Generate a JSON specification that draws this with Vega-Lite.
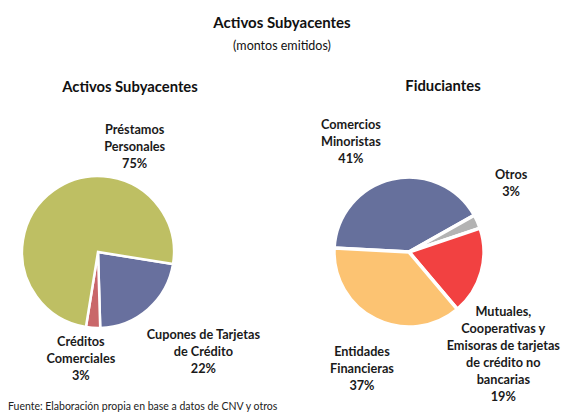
{
  "$schema": "https://vega.github.io/schema/vega-lite/v6.json",
  "padding": {"left": 0, "top": 16, "right": 0, "bottom": 0},
  "autosize": {"type": "pad"},
  "bounds": "flush",
  "background": "white",
  "config": {
    "view": {"stroke": null},
    "font": "Lato",
    "title": {"color": "#111111", "fontWeight": "bold"}
  },
  "title": {
    "text": "Activos Subyacentes",
    "subtitle": "(montos emitidos)",
    "fontSize": 15,
    "fontWeight": "bold",
    "subtitleFontSize": 12.5,
    "subtitleColor": "#111111",
    "subtitlePadding": 9,
    "anchor": "middle",
    "offset": 26
  },
  "vconcat": [
    {
      "title": {
        "text": "Fuente: Elaboración propia en base a datos de CNV y otros",
        "orient": "bottom",
        "anchor": "start",
        "fontSize": 10.5,
        "fontWeight": "normal",
        "color": "#222222",
        "dx": 8,
        "offset": -2
      },
      "spacing": 58,
      "bounds": "flush",
      "resolve": {"scale": {"color": "independent", "theta": "independent"}},
      "hconcat": [
        {
          "width": 196,
          "height": 296,
          "title": {"text": "Activos Subyacentes", "fontSize": 14.8, "dx": 32, "offset": 9},
          "data": {
            "values": [
              {"categoria": "Cupones de Tarjetas de Crédito", "monto": 22, "orden": 1, "etiqueta": "Cupones de Tarjetas\nde Crédito\n22%"},
              {"categoria": "Créditos Comerciales", "monto": 3, "orden": 2, "etiqueta": "Créditos\nComerciales\n3%"},
              {"categoria": "Préstamos Personales", "monto": 75, "orden": 3, "etiqueta": "Préstamos\nPersonales\n75%"}
            ]
          },
          "layer": [
            {
              "mark": {"type": "arc", "outerRadius": 76, "stroke": "white", "strokeWidth": 2.5},
              "encoding": {
                "theta": {"field": "monto", "type": "quantitative", "stack": true, "scale": {"range": [1.73, 8.0132]}},
                "order": {"field": "orden", "type": "quantitative"},
                "color": {
                  "field": "categoria", "type": "nominal", "legend": null,
                  "scale": {"domain": ["Cupones de Tarjetas de Crédito", "Créditos Comerciales", "Préstamos Personales"], "range": ["#68709E", "#C9676A", "#BEBF63"]}
                }
              }
            },
            {
              "mark": {"type": "text", "radius": 140, "dx": 13, "dy": -22, "font": "Lato", "fontWeight": "bold", "fontSize": 12.7, "lineHeight": 17, "lineBreak": "\n", "align": "center", "baseline": "middle", "color": "#1a1a1a"},
              "encoding": {
                "theta": {"field": "monto", "type": "quantitative", "stack": true},
                "order": {"field": "orden", "type": "quantitative"},
                "text": {"condition": {"test": "datum.orden == 1", "field": "etiqueta"}, "value": ""}
              }
            },
            {
              "mark": {"type": "text", "radius": 110, "dx": -10, "dy": -20, "font": "Lato", "fontWeight": "bold", "fontSize": 12.7, "lineHeight": 17, "lineBreak": "\n", "align": "center", "baseline": "middle", "color": "#1a1a1a"},
              "encoding": {
                "theta": {"field": "monto", "type": "quantitative", "stack": true},
                "order": {"field": "orden", "type": "quantitative"},
                "text": {"condition": {"test": "datum.orden == 2", "field": "etiqueta"}, "value": ""}
              }
            },
            {
              "mark": {"type": "text", "radius": 120, "dx": 107, "dy": -25, "font": "Lato", "fontWeight": "bold", "fontSize": 12.7, "lineHeight": 17, "lineBreak": "\n", "align": "center", "baseline": "middle", "color": "#1a1a1a"},
              "encoding": {
                "theta": {"field": "monto", "type": "quantitative", "stack": true},
                "order": {"field": "orden", "type": "quantitative"},
                "text": {"condition": {"test": "datum.orden == 3", "field": "etiqueta"}, "value": ""}
              }
            }
          ]
        },
        {
          "width": 310,
          "height": 296,
          "title": {"text": "Fiduciantes", "fontSize": 14.8, "dx": 34, "offset": 0},
          "data": {
            "values": [
              {"categoria": "Comercios Minoristas", "monto": 41, "orden": 1, "etiqueta": "Comercios\nMinoristas\n41%"},
              {"categoria": "Otros", "monto": 3, "orden": 2, "etiqueta": "Otros\n3%"},
              {"categoria": "Mutuales, Cooperativas y Emisoras de tarjetas de crédito no bancarias", "monto": 19, "orden": 3, "etiqueta": "Mutuales,\nCooperativas y\nEmisoras de tarjetas\nde crédito no\nbancarias\n19%"},
              {"categoria": "Entidades Financieras", "monto": 37, "orden": 4, "etiqueta": "Entidades\nFinancieras\n37%"}
            ]
          },
          "layer": [
            {
              "mark": {"type": "arc", "outerRadius": 75, "stroke": "white", "strokeWidth": 3.5},
              "encoding": {
                "theta": {"field": "monto", "type": "quantitative", "stack": true, "scale": {"range": [4.765, 11.0482]}},
                "order": {"field": "orden", "type": "quantitative"},
                "color": {
                  "field": "categoria", "type": "nominal", "legend": null,
                  "scale": {"domain": ["Comercios Minoristas", "Otros", "Mutuales, Cooperativas y Emisoras de tarjetas de crédito no bancarias", "Entidades Financieras"], "range": ["#66709C", "#B3B3B3", "#F24141", "#FCC372"]}
                }
              }
            },
            {
              "mark": {"type": "text", "radius": 110, "dx": -33, "dy": -20, "font": "Lato", "fontWeight": "bold", "fontSize": 12.7, "lineHeight": 17, "lineBreak": "\n", "align": "center", "baseline": "middle", "color": "#1a1a1a"},
              "encoding": {
                "theta": {"field": "monto", "type": "quantitative", "stack": true},
                "order": {"field": "orden", "type": "quantitative"},
                "text": {"condition": {"test": "datum.orden == 1", "field": "etiqueta"}, "value": ""}
              }
            },
            {
              "mark": {"type": "text", "radius": 115, "dx": -3, "dy": -30, "font": "Lato", "fontWeight": "bold", "fontSize": 12.7, "lineHeight": 17, "lineBreak": "\n", "align": "center", "baseline": "middle", "color": "#1a1a1a"},
              "encoding": {
                "theta": {"field": "monto", "type": "quantitative", "stack": true},
                "order": {"field": "orden", "type": "quantitative"},
                "text": {"condition": {"test": "datum.orden == 2", "field": "etiqueta"}, "value": ""}
              }
            },
            {
              "mark": {"type": "text", "radius": 100, "dx": -2, "dy": 33, "font": "Lato", "fontWeight": "bold", "fontSize": 12.7, "lineHeight": 17, "lineBreak": "\n", "align": "center", "baseline": "middle", "color": "#1a1a1a"},
              "encoding": {
                "theta": {"field": "monto", "type": "quantitative", "stack": true},
                "order": {"field": "orden", "type": "quantitative"},
                "text": {"condition": {"test": "datum.orden == 3", "field": "etiqueta"}, "value": ""}
              }
            },
            {
              "mark": {"type": "text", "radius": 135, "dx": 13, "dy": -21, "font": "Lato", "fontWeight": "bold", "fontSize": 12.7, "lineHeight": 17, "lineBreak": "\n", "align": "center", "baseline": "middle", "color": "#1a1a1a"},
              "encoding": {
                "theta": {"field": "monto", "type": "quantitative", "stack": true},
                "order": {"field": "orden", "type": "quantitative"},
                "text": {"condition": {"test": "datum.orden == 4", "field": "etiqueta"}, "value": ""}
              }
            }
          ]
        }
      ]
    }
  ]
}
